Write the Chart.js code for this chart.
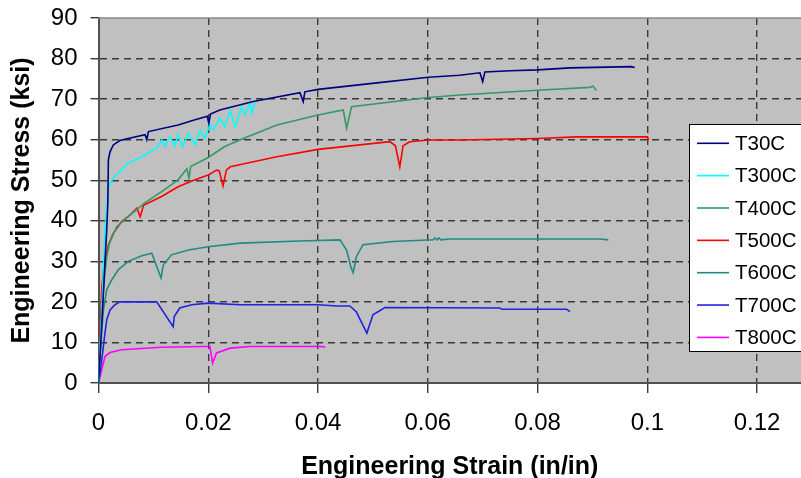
<!DOCTYPE html>
<html>
<head>
<meta charset="utf-8">
<title>Engineering Stress vs Strain</title>
<script src="https://cdn.jsdelivr.net/npm/chart.js@4.4.0/dist/chart.umd.min.js"></script>
<style>
    html, body { margin: 0; padding: 0; background: #fff; }
    #wrap { width: 801px; height: 478px; position: relative; }
</style>
</head>
<body>
<div id="wrap"><canvas id="stress-strain"></canvas></div>
<script>
// Data
const seriesNames = ["T30C", "T300C", "T400C", "T500C", "T600C", "T700C", "T800C"];
const xTicks = [0, 0.02, 0.04, 0.06, 0.08, 0.1, 0.12];
const yTicks = [0, 10, 20, 30, 40, 50, 60, 70, 80, 90];

const t30Strain = [0, 0.0005, 0.001, 0.0013, 0.0015, 0.0017, 0.0018, 0.0021, 0.0027, 0.0039, 0.0054, 0.0085, 0.0088, 0.0091, 0.0145, 0.0176, 0.0198, 0.0201, 0.0204, 0.0221, 0.0282, 0.0367, 0.0373, 0.0376, 0.04, 0.0507, 0.0601, 0.0658, 0.0695, 0.07, 0.0704, 0.075, 0.08, 0.0859, 0.0971, 0.0977];
const t30Stress = [0, 12, 25, 33, 37.8, 44.3, 55, 57, 58.7, 59.8, 60.3, 61.2, 60, 62, 63.6, 64.9, 65.8, 64, 66.3, 67.3, 69.4, 71.6, 69.4, 71.8, 72.4, 74, 75.4, 75.9, 76.5, 74.3, 76.7, 77, 77.2, 77.7, 78, 77.8];

const t300Strain = [0, 0.0005, 0.0009, 0.0012, 0.0015, 0.0018, 0.0027, 0.0048, 0.0054, 0.0079, 0.0106, 0.0112, 0.0115, 0.0121, 0.013, 0.0139, 0.0145, 0.0153, 0.0164, 0.0176, 0.0185, 0.0194, 0.0203, 0.0209, 0.0221, 0.023, 0.024, 0.0249, 0.0261, 0.0267, 0.0276, 0.0279, 0.0285];
const t300Stress = [0, 15, 28, 37.8, 43.5, 48.4, 50.5, 53.4, 54.2, 55.8, 57.9, 59.1, 59.9, 58.3, 60.7, 58.4, 61.2, 58.3, 61.6, 58.7, 62.4, 60.3, 63.8, 62.4, 65.3, 63.2, 67.3, 63.2, 68.1, 66.1, 69, 66.5, 69.1];

const t400Strain = [0, 0.0005, 0.001, 0.0015, 0.002, 0.0033, 0.0054, 0.0085, 0.0115, 0.0145, 0.0161, 0.0165, 0.0168, 0.02, 0.023, 0.0264, 0.0325, 0.04, 0.0446, 0.0452, 0.0461, 0.0601, 0.0658, 0.08, 0.0895, 0.0901, 0.0907];
const t400Stress = [0, 14, 25, 31, 34.5, 38.5, 41, 44.5, 47.2, 50.1, 52.8, 50.5, 53.4, 55.6, 58.3, 60.3, 63.6, 66.1, 67.3, 62.8, 68.1, 70.4, 71, 72.2, 72.9, 73.2, 72.1];

const t500Strain = [0, 0.0003, 0.0006, 0.0011, 0.0018, 0.0027, 0.0042, 0.0054, 0.007, 0.0076, 0.0082, 0.0115, 0.0145, 0.0176, 0.02, 0.0215, 0.022, 0.0227, 0.0233, 0.024, 0.0325, 0.04, 0.0531, 0.0541, 0.0549, 0.0555, 0.0567, 0.0601, 0.0658, 0.08, 0.0871, 0.1, 0.1001];
const t500Stress = [0, 11.5, 23.8, 29.6, 34, 36.9, 39.8, 41, 43.1, 41, 43.8, 46, 48.4, 50.1, 51.3, 52.5, 52.3, 48.6, 52.5, 53.3, 55.8, 57.6, 59.5, 58.5, 53.3, 58.5, 59.5, 59.9, 59.9, 60.3, 60.7, 60.7, 59.7];

const t600Strain = [0, 0.0005, 0.0009, 0.0015, 0.0024, 0.0036, 0.0054, 0.0079, 0.0097, 0.0114, 0.0118, 0.0133, 0.0164, 0.02, 0.0258, 0.0367, 0.044, 0.0452, 0.046, 0.0464, 0.047, 0.0482, 0.0537, 0.061, 0.0613, 0.0617, 0.062, 0.0624, 0.064, 0.0913, 0.0929];
const t600Stress = [0, 11.5, 18, 23, 25.4, 27.9, 30, 31.4, 32, 25.9, 29.1, 31.6, 32.8, 33.6, 34.5, 35, 35.3, 32.8, 28.5, 27.2, 31.2, 34.1, 34.9, 35.3, 35.8, 35.3, 35.8, 35.3, 35.5, 35.5, 35.3];

const t700Strain = [0, 0.0006, 0.0011, 0.0015, 0.0021, 0.003, 0.0039, 0.0106, 0.0136, 0.0138, 0.0148, 0.017, 0.02, 0.0258, 0.04, 0.0434, 0.0458, 0.047, 0.0489, 0.05, 0.0522, 0.0731, 0.0735, 0.0853, 0.0859];
const t700Stress = [0, 5.7, 11.5, 15.6, 18, 19.3, 20, 20, 13.9, 16.4, 18.5, 19.3, 19.7, 19.3, 19.3, 19, 19, 17.5, 12.3, 16.8, 18.6, 18.5, 18.2, 18.2, 17.6];

const t800Strain = [0, 0.0006, 0.0012, 0.0021, 0.0042, 0.0115, 0.0194, 0.0203, 0.0208, 0.0215, 0.024, 0.0276, 0.0403, 0.0413];
const t800Stress = [0, 3.3, 6.6, 7.5, 8.2, 8.8, 9, 9, 4.9, 7.4, 8.6, 9, 9, 8.9];

const seriesColors = ["#000080", "#00FFFF", "#339966", "#FF0000", "#1E8C80", "#2222E0", "#FF00FF"];

// pair strain / stress into points
function toPoints(xs, ys) {
    return xs.map(function (x, i) { return { x: x, y: ys[i] }; });
}

const strains = [t30Strain, t300Strain, t400Strain, t500Strain, t600Strain, t700Strain, t800Strain];
const stresses = [t30Stress, t300Stress, t400Stress, t500Stress, t600Stress, t700Stress, t800Stress];

const datasets = seriesNames.map(function (name, i) {
    return {
        label: name,
        data: toPoints(strains[i], stresses[i]),
        borderColor: seriesColors[i],
        backgroundColor: seriesColors[i],
        borderWidth: 1.6,
        pointRadius: 0,
        tension: 0,
        fill: false
    };
});

// Gray plot background + top border
const plotBackground = {
    id: 'plotBackground',
    beforeDraw: function (chart) {
        const a = chart.chartArea, ctx = chart.ctx;
        ctx.save();
        ctx.fillStyle = '#C0C0C0';
        ctx.fillRect(a.left, a.top, a.right - a.left, a.bottom - a.top);
        ctx.restore();
    },
    afterDraw: function (chart) {
        const a = chart.chartArea, ctx = chart.ctx;
        ctx.save();
        ctx.strokeStyle = '#8a8a8a';
        ctx.lineWidth = 1.5;
        ctx.beginPath();
        ctx.moveTo(a.left, a.top);
        ctx.lineTo(a.right, a.top);
        ctx.stroke();
        ctx.restore();
    }
};

// Boxed legend inside the plot, right side
const boxLegend = {
    id: 'boxLegend',
    afterDraw: function (chart) {
        const ctx = chart.ctx;
        const left = 689, top = 124, width = 130, height = 227;
        const rowStart = 143.3, rowStep = 32.35;
        ctx.save();
        ctx.fillStyle = '#ffffff';
        ctx.fillRect(left, top, width, height);
        ctx.strokeStyle = '#000000';
        ctx.lineWidth = 1;
        ctx.strokeRect(left + 0.5, top + 0.5, width, height);
        ctx.font = '20.5px "Liberation Sans", Arial, sans-serif';
        ctx.textBaseline = 'middle';
        ctx.textAlign = 'left';
        chart.data.datasets.forEach(function (ds, i) {
            const y = rowStart + i * rowStep;
            ctx.strokeStyle = ds.borderColor;
            ctx.lineWidth = 1.6;
            ctx.beginPath();
            ctx.moveTo(697, y);
            ctx.lineTo(729, y);
            ctx.stroke();
            ctx.fillStyle = '#000000';
            ctx.fillText(ds.label, 735, y + 1);
        });
        ctx.restore();
    }
};

var ctx = document.getElementById('stress-strain').getContext('2d');
var stressChart = new Chart(ctx, {
    type: 'line',
    data: { datasets: datasets },
    plugins: [plotBackground, boxLegend],
    options: {
        responsive: true,
        maintainAspectRatio: false,
        animation: false,
        layout: { padding: { top: 18, right: 0, left: 0, bottom: 0 } },
        plugins: {
            legend: { display: false },
            tooltip: { enabled: false }
        },
        scales: {
            x: {
                type: 'linear',
                min: 0,
                max: 0.128,
                afterBuildTicks: function (scale) {
                    scale.ticks = xTicks.map(function (v) { return { value: v }; });
                },
                afterFit: function (scale) {
                    scale.height = 95;
                    scale.paddingLeft = 0;
                    scale.paddingRight = 0;
                },
                ticks: {
                    color: '#000',
                    font: { family: '"Liberation Sans", Arial, sans-serif', size: 24 },
                    padding: 16,
                    maxRotation: 0,
                    callback: function (v) { return String(Math.round(v * 100) / 100); }
                },
                grid: {
                    color: function (c) { return c.tick && c.tick.value === 0 ? 'rgba(0,0,0,0)' : '#3a3a3a'; },
                    lineWidth: 1.4,
                    tickLength: 10,
                    tickColor: '#3a3a3a',
                    tickWidth: 1.4
                },
                border: { display: true, color: '#505050', width: 2, dash: [7, 5] },
                title: {
                    display: true,
                    text: 'Engineering Strain (in/in)',
                    color: '#000',
                    font: { family: '"Liberation Sans", Arial, sans-serif', size: 25, weight: 'bold', lineHeight: 1 },
                    padding: { top: 0, bottom: -2 }
                }
            },
            y: {
                min: 0,
                max: 90,
                afterBuildTicks: function (scale) {
                    scale.ticks = yTicks.map(function (v) { return { value: v }; });
                },
                afterFit: function (scale) {
                    scale.width = 98.5;
                    scale.paddingTop = 0;
                    scale.paddingBottom = 0;
                },
                ticks: {
                    color: '#000',
                    font: { family: '"Liberation Sans", Arial, sans-serif', size: 24 },
                    padding: 13
                },
                grid: {
                    color: function (c) {
                        var v = c.tick ? c.tick.value : -1;
                        return (v === 0 || v === 90) ? 'rgba(0,0,0,0)' : '#3a3a3a';
                    },
                    lineWidth: 1.4,
                    tickLength: 8,
                    tickColor: '#3a3a3a',
                    tickWidth: 1.4
                },
                border: { display: true, color: '#505050', width: 2, dash: [7, 5] },
                title: {
                    display: true,
                    text: 'Engineering Stress (ksi)',
                    color: '#000',
                    font: { family: '"Liberation Sans", Arial, sans-serif', size: 25, weight: 'bold', lineHeight: 1 },
                    padding: { top: 10, bottom: 0 }
                }
            }
        }
    }
});
</script>
</body>
</html>
